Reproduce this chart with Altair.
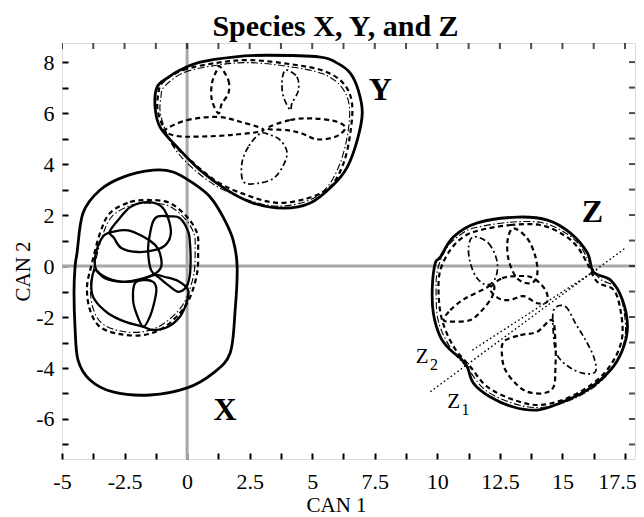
import altair as alt
import pandas as pd

X_DOMAIN = [-5, 17.9]
Y_DOMAIN = [-7.57, 8.75]

x_ticks = [-5, -3.75, -2.5, -1.25, 0, 1.25, 2.5, 3.75, 5, 6.25, 7.5, 8.75, 10,
           11.25, 12.5, 13.75, 15, 16.25, 17.5]
y_ticks = [-7, -6, -5, -4, -3, -2, -1, 0, 1, 2, 3, 4, 5, 6, 7, 8]

# ---- species X ----
x_outer = [(-4.40, 0.51), (-4.16, 2.08), (-3.48, 2.98), (-2.56, 3.49), (-1.36, 3.76),
           (-0.56, 3.69), (0.24, 3.25), (0.92, 2.71), (1.44, 1.92), (1.84, 1.02),
           (2.00, -0.04), (1.92, -1.73), (1.72, -3.41), (1.04, -4.20), (0.00, -4.78),
           (-1.48, -5.06), (-2.96, -4.94), (-3.88, -4.47), (-4.36, -3.69), (-4.48, -2.39),
           (-4.52, -1.06), (-4.48, -0.04)]
x_dash = [(-3.08, 2.08), (-2.28, 2.51), (-1.48, 2.59), (-0.68, 2.47), (0.00, 1.92),
          (0.40, 1.29), (0.44, 0.63), (0.40, -0.27), (0.12, -1.22), (-0.28, -1.84),
          (-0.96, -2.43), (-1.76, -2.71), (-2.68, -2.67), (-3.48, -2.39), (-3.88, -1.73),
          (-4.00, -0.82), (-3.80, 0.12), (-3.48, 1.29)]
x_dashdot = [(-3.00, 1.95), (-2.25, 2.38), (-1.48, 2.47), (-0.72, 2.35), (-0.08, 1.85),
             (0.28, 1.25), (0.32, 0.60), (0.28, -0.25), (0.02, -1.15), (-0.35, -1.75),
             (-1.00, -2.30), (-1.76, -2.58), (-2.66, -2.55), (-3.40, -2.25), (-3.76, -1.65),
             (-3.86, -0.80), (-3.68, 0.10), (-3.38, 1.20)]
x_loop_top = [(-3.09, 1.36), (-2.63, 1.95), (-2.23, 2.34), (-1.56, 2.51), (-1.03, 2.34),
              (-0.76, 1.88), (-0.65, 1.29), (-0.83, 0.86), (-1.23, 0.64), (-1.96, 0.55),
              (-2.63, 0.71), (-2.92, 1.10)]
x_loop_right = [(-1.36, 1.75), (-1.16, 1.95), (-0.69, 1.95), (-0.29, 1.88), (0.04, 1.36),
                (0.12, 0.82), (0.14, 0.24), (0.11, -0.35), (-0.03, -0.81), (-0.36, -1.01),
                (-0.76, -0.75), (-1.09, -0.48), (-1.44, -0.16), (-1.56, 0.63), (-1.49, 1.23)]
x_loop_tilt = [(-3.36, 1.16), (-2.89, 1.36), (-2.36, 1.40), (-1.76, 1.16), (-1.29, 0.84),
               (-1.09, 0.51), (-1.03, 0.00), (-1.24, -0.27), (-1.76, -0.48), (-2.49, -0.62),
               (-3.16, -0.48), (-3.63, -0.16), (-3.66, 0.43)]
x_loop_low = [(-3.69, -0.16), (-3.83, -0.81), (-3.69, -1.33), (-3.16, -1.85), (-2.49, -2.18),
              (-1.76, -2.38), (-1.36, -2.51), (-0.76, -2.38), (-0.29, -1.99), (-0.03, -1.46),
              (0.04, -0.94), (-0.36, -0.59), (-0.89, -0.43), (-1.29, -0.35), (-1.88, -0.55),
              (-2.63, -0.62), (-3.29, -0.48)]
x_loop_bottom = [(-2.09, -0.68), (-2.16, -1.33), (-2.03, -1.85), (-1.76, -2.38), (-1.49, -1.99),
                 (-1.29, -1.33), (-1.23, -0.87), (-1.36, -0.62), (-1.69, -0.55)]

# ---- species Y ----
y_outer = [(-1.20, 7.02), (-1.28, 6.24), (-1.08, 5.45), (-0.40, 4.67), (0.52, 3.76),
           (1.60, 2.98), (2.64, 2.47), (3.84, 2.27), (4.92, 2.47), (5.84, 3.18),
           (6.40, 3.88), (6.80, 4.94), (7.00, 6.00), (6.84, 6.90), (6.52, 7.57),
           (6.00, 7.96), (5.32, 8.20), (3.20, 8.27), (1.84, 8.20), (0.52, 8.00),
           (-0.28, 7.69), (-0.80, 7.37)]
y_dash = [(-0.95, 7.23), (-0.15, 7.69), (1.19, 7.97), (2.52, 8.08), (4.12, 7.92),
          (5.45, 7.66), (6.25, 7.16), (6.59, 6.38), (6.52, 5.20), (6.25, 4.03),
          (5.72, 3.11), (4.79, 2.65), (3.59, 2.48), (2.39, 2.78), (1.19, 3.31),
          (0.12, 4.16), (-0.68, 4.94), (-1.15, 5.99), (-1.15, 6.77)]
y_dashdot = [(-0.90, 7.05), (-0.10, 7.60), (1.20, 7.88), (2.50, 7.98), (4.10, 7.82),
             (5.40, 7.55), (6.15, 7.05), (6.48, 6.30), (6.42, 5.20), (6.12, 4.05),
             (5.60, 3.10), (4.80, 2.55), (3.60, 2.35), (2.40, 2.60), (1.15, 3.15),
             (0.10, 3.95), (-0.62, 4.80), (-1.05, 5.90), (-1.05, 6.60)]
y_loop_tl = [(1.32, 7.82), (1.65, 7.29), (1.65, 6.77), (1.39, 6.38), (1.25, 5.99),
             (0.99, 6.51), (0.99, 7.16), (1.19, 7.69)]
y_loop_tr = [(3.99, 7.69), (4.39, 7.42), (4.45, 6.90), (4.19, 6.38), (4.12, 6.12),
             (3.85, 6.64), (3.79, 7.16), (3.85, 7.56)]
y_loop_left = [(-0.88, 5.33), (-0.01, 5.72), (1.19, 5.85), (2.12, 5.66), (3.05, 5.33),
               (1.85, 5.15), (0.52, 5.08), (-0.41, 5.10)]
y_loop_right = [(3.19, 5.40), (4.12, 5.73), (5.05, 5.79), (5.99, 5.66), (6.32, 5.40),
                (5.92, 5.07), (5.19, 4.97), (4.59, 5.20), (3.99, 5.33)]
y_loop_bottom = [(2.92, 5.20), (2.45, 4.68), (2.19, 4.03), (2.25, 3.31), (2.79, 3.24),
                 (3.45, 3.44), (3.85, 3.96), (3.99, 4.48), (3.72, 4.94), (3.32, 5.14)]

# ---- species Z ----
z_outer = [(9.92, 0.12), (10.12, 0.35), (10.64, 1.14), (11.60, 1.69), (13.20, 1.92),
           (14.40, 1.80), (15.32, 1.29), (16.00, 0.51), (16.24, -0.24), (16.92, -0.55),
           (17.40, -1.33), (17.60, -2.39), (17.40, -3.29), (16.92, -4.08), (16.00, -4.86),
           (14.92, -5.37), (14.00, -5.65), (13.04, -5.53), (12.12, -5.14), (11.44, -4.59),
           (11.20, -3.96), (10.92, -3.61), (10.52, -3.29), (10.12, -2.78), (9.84, -1.84),
           (9.80, -0.82)]
z_dash = [(11.72, 1.41), (12.92, 1.61), (14.12, 1.61), (15.05, 1.22), (15.59, 0.76),
          (15.99, 0.11), (16.39, -0.62), (17.05, -0.94), (17.32, -1.73), (17.39, -2.77),
          (17.05, -3.69), (16.39, -4.47), (15.32, -5.13), (14.12, -5.45), (13.05, -5.25),
          (11.99, -4.73), (11.32, -3.95), (10.65, -3.16), (10.19, -2.12), (10.05, -1.07),
          (10.12, -0.16), (10.52, 0.63), (11.05, 1.15)]
z_dashdot = [(11.50, 1.50), (12.90, 1.72), (14.20, 1.70), (15.15, 1.28), (15.70, 0.80),
             (16.05, 0.20), (16.50, -0.50), (17.15, -0.85), (17.45, -1.70), (17.50, -2.80),
             (17.15, -3.75), (16.45, -4.60), (15.35, -5.25), (14.10, -5.55), (13.00, -5.38),
             (11.90, -4.85), (11.20, -4.00), (10.55, -3.25), (10.05, -2.20), (9.95, -1.05),
             (10.02, -0.10), (10.40, 0.75), (10.95, 1.25)]
z_loop_top1 = [(11.45, 1.15), (12.05, 0.89), (12.39, 0.17), (12.32, -0.48), (11.99, -0.74),
               (11.59, -0.48), (11.32, 0.11), (11.25, 0.76)]
z_loop_top2 = [(13.05, 1.48), (13.59, 1.09), (13.92, 0.37), (13.99, -0.35), (13.72, -0.68),
               (13.19, -0.48), (12.85, 0.24), (12.81, 1.02)]
z_loop_mid = [(12.12, -0.88), (12.59, -0.48), (13.32, -0.39), (13.85, -0.48), (14.32, -0.94),
              (14.39, -1.40), (13.99, -1.46), (13.45, -1.18), (12.92, -1.33), (12.45, -1.27)]
z_loop_left = [(10.25, -2.12), (10.52, -1.73), (11.05, -1.31), (11.79, -0.94), (12.25, -0.74),
               (12.19, -1.20), (11.79, -1.73), (11.32, -2.12), (10.65, -2.18)]
z_loop_bottom = [(12.65, -2.97), (13.32, -2.71), (13.99, -2.58), (14.59, -2.12), (14.72, -3.03),
                 (14.72, -3.95), (14.65, -4.73), (14.25, -4.99), (13.59, -4.93), (13.12, -4.60),
                 (12.72, -4.08), (12.59, -3.56)]
z_loop_right = [(14.65, -1.73), (15.12, -1.59), (15.52, -2.25), (15.92, -2.90), (16.25, -3.56),
                (16.32, -4.14), (15.85, -4.21), (15.25, -3.95), (14.79, -3.49), (14.65, -2.77)]
z1_axis = [(9.72, -4.93), (17.52, 0.71)]
z2_axis = [(11.40, -3.30), (16.40, -0.12)]

# ---- labels ----
big_labels = [("X", 1.52, -5.65), ("Y", 7.72, 6.90), ("Z", 16.20, 2.12)]
z_labels = [("Z", 9.39, -3.56), ("Z", 10.65, -5.32)]
z_subs = [("2", 9.39, -3.56), ("1", 10.65, -5.32)]

SERIF = "Liberation Serif"


def frame(loops):
    rows = []
    for name, pts in loops.items():
        for i, (x, y) in enumerate(pts):
            rows.append({"loop": name, "i": i, "x": x, "y": y})
    return pd.DataFrame(rows)


xaxis = alt.Axis(values=x_ticks, format=".4~g",
                 labelExpr="abs(datum.value/2.5 - round(datum.value/2.5)) < 0.01 ? replace(datum.label, '\u2212', '-') : ''",
                 labelOffset={"condition": {"test": "datum.value > 17", "value": -8}, "value": 0},
                 tickSize=6, offset=-6, domain=False, grid=False, tickColor="black",
                 tickWidth=2, labelFont=SERIF, labelFontSize=22, labelColor="black",
                 labelPadding=12, labelOverlap=False, labelFlush=False,
                 title="CAN 1", titleFont=SERIF, titleFontSize=21, titleFontWeight="normal",
                 titleColor="black", titlePadding=2, titleX=274)
yaxis = alt.Axis(values=y_ticks, format=".4~g",
                 labelExpr="abs(datum.value/2 - round(datum.value/2)) < 0.01 ? replace(datum.label, '\u2212', '-') : ''",
                 tickSize=6, offset=-6, domain=False, grid=False, tickColor="black",
                 tickWidth=2, labelFont=SERIF, labelFontSize=22, labelColor="black",
                 labelPadding=8, labelOverlap=False, labelFlush=False,
                 title="CAN 2", titleFont=SERIF, titleFontSize=21, titleFontWeight="normal",
                 titleColor="black", titlePadding=2, titleY=228)

X = alt.X("x:Q", scale=alt.Scale(domain=X_DOMAIN, nice=False, zero=False), axis=xaxis)
Y = alt.Y("y:Q", scale=alt.Scale(domain=Y_DOMAIN, nice=False, zero=False), axis=yaxis)


def loops_layer(loops, width, dash=None, closed=True):
    kw = dict(interpolate="cardinal-closed" if closed else "linear", color="black",
              strokeWidth=width, clip=True)
    if dash:
        kw["strokeDash"] = dash
    return alt.Chart(frame(loops)).mark_line(**kw).encode(
        x=X, y=Y, detail="loop:N", order="i:Q")


ref_v = alt.Chart(pd.DataFrame({"x": [0.0]})).mark_rule(
    color="#a8a8a8", strokeWidth=3).encode(x=X)
ref_h = alt.Chart(pd.DataFrame({"y": [0.0]})).mark_rule(
    color="#a8a8a8", strokeWidth=3).encode(y=Y)

solid_outer = loops_layer({"xo": x_outer, "yo": y_outer, "zo": z_outer}, 2.8)
solid_loops = loops_layer({"t": x_loop_top, "r": x_loop_right, "tl": x_loop_tilt,
                           "lo": x_loop_low, "b": x_loop_bottom}, 2.3)
dashed = loops_layer({"xd": x_dash, "yd": y_dash, "zd": z_dash,
                      "y1": y_loop_tl, "y3": y_loop_left, "y4": y_loop_right,
                      "z2": z_loop_top2, "z3": z_loop_mid, "z4": z_loop_left,
                      "z5": z_loop_bottom}, 2.2, [5, 3.5])
dashdot = loops_layer({"xdd": x_dashdot, "ydd": y_dashdot, "zdd": z_dashdot},
                      1.1, [7, 2.5, 1.5, 2.5])
dashdot_loops = loops_layer({"y2": y_loop_tr, "y5": y_loop_bottom, "z1": z_loop_top1,
                             "z6": z_loop_right}, 1.7, [6, 3, 2, 3])
axes_lines = loops_layer({"z1a": z1_axis, "z2a": z2_axis}, 1.4, [1.6, 2.6], closed=False)

top_ticks = alt.Chart(pd.DataFrame({"x": x_ticks, "y": Y_DOMAIN[1]})).mark_tick(
    orient="vertical", size=12, thickness=2, color="black", clip=True).encode(x=X, y=Y)
right_ticks = alt.Chart(pd.DataFrame({"x": X_DOMAIN[1], "y": y_ticks})).mark_tick(
    orient="horizontal", size=12, thickness=2, color="black", clip=True).encode(x=X, y=Y)

lab_df = pd.DataFrame(big_labels, columns=["t", "x", "y"])
big_text = alt.Chart(lab_df).mark_text(font=SERIF, fontSize=32, fontWeight="bold",
                                       color="black", align="center", baseline="middle").encode(
    x=X, y=Y, text="t:N")
zl_df = pd.DataFrame(z_labels, columns=["t", "x", "y"])
z_text = alt.Chart(zl_df).mark_text(font=SERIF, fontSize=21, color="black",
                                    align="center", baseline="middle").encode(x=X, y=Y, text="t:N")
zs_df = pd.DataFrame(z_subs, columns=["t", "x", "y"])
z_sub = alt.Chart(zs_df).mark_text(font=SERIF, fontSize=16, color="black", align="center",
                                   baseline="middle", dx=12, dy=8).encode(x=X, y=Y, text="t:N")

chart = alt.layer(ref_v, ref_h, solid_outer, solid_loops, dashed, dashdot, dashdot_loops,
                  axes_lines, top_ticks, right_ticks, big_text, z_text, z_sub).properties(
    width=573, height=416,
    title=alt.TitleParams("Species X, Y, and Z", font=SERIF, fontSize=30, fontWeight="bold",
                          color="black", offset=0, dx=-13),
    autosize=alt.AutoSizeParams(type="none"),
    padding={"left": 54, "top": 35, "right": 1, "bottom": 58},
).configure_view(stroke="black", strokeWidth=2.5).configure(background="white")

chart.save("out.html", embed_options={"renderer": "svg", "actions": False})
